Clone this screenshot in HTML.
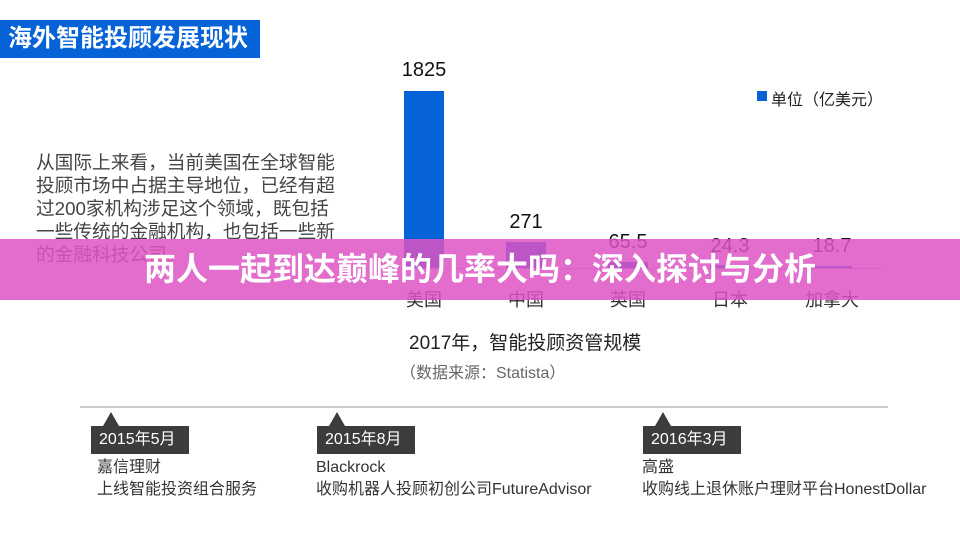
<!DOCTYPE html>
<html><head><meta charset="utf-8"><style>
body{margin:0;width:960px;height:540px;background:#fff;position:relative;overflow:hidden;font-family:"Liberation Sans","Noto Sans CJK SC",sans-serif;}
.a{position:absolute;white-space:nowrap;}
.bar{position:absolute;background:#0563d7;width:40px;}
.v{position:absolute;width:100px;text-align:center;font-size:20px;color:#111;}
.c{position:absolute;width:100px;text-align:center;font-size:18px;color:#333;top:286px;}
.tag{position:absolute;top:426px;height:28px;background:#3c3c3c;color:#fff;font-size:16px;line-height:28px;padding-left:8px;width:90px;}
.tag:before{content:"";position:absolute;left:12px;top:-14px;border-left:8px solid transparent;border-right:8px solid transparent;border-bottom:14px solid #3c3c3c;}
.t{position:absolute;top:457px;font-size:16px;color:#333;line-height:22px;}
</style></head><body>
<div class="a" style="left:0;top:20px;width:260px;height:38px;background:#0563d7;color:#fff;font-size:24px;font-weight:bold;line-height:38px;padding-left:8px;box-sizing:border-box;">海外智能投顾发展现状</div>
<div class="a" style="left:36px;top:151px;font-size:18.7px;color:#444;line-height:23px;">从国际上来看，当前美国在全球智能<br>投顾市场中占据主导地位，已经有超<br>过200家机构涉足这个领域，既包括<br>一些传统的金融机构，也包括一些新<br>的金融科技公司。</div>
<div class="a" style="left:385px;top:268px;width:497px;height:1px;background:#bbb;"></div>
<div class="bar" style="left:404px;top:91px;height:177px"></div>
<div class="bar" style="left:506px;top:242px;height:26px"></div>
<div class="bar" style="left:608px;top:262px;height:6px"></div>
<div class="bar" style="left:710px;top:265px;height:3px"></div>
<div class="bar" style="left:812px;top:266px;height:2px"></div>
<div class="v" style="left:374px;top:59px">1825</div>
<div class="v" style="left:476px;top:211px">271</div>
<div class="v" style="left:578px;top:231px">65.5</div>
<div class="v" style="left:680px;top:235px">24.3</div>
<div class="v" style="left:782px;top:235px">18.7</div>
<div class="c" style="left:374px">美国</div>
<div class="c" style="left:476px">中国</div>
<div class="c" style="left:578px">英国</div>
<div class="c" style="left:680px">日本</div>
<div class="c" style="left:782px">加拿大</div>
<div class="a" style="left:757px;top:91px;width:10px;height:10px;background:#0563d7"></div>
<div class="a" style="left:771px;top:86px;font-size:16px;color:#222">单位（亿美元）</div>
<div class="a" style="left:409px;top:328px;font-size:19px;color:#222">2017年，智能投顾资管规模</div>
<div class="a" style="left:400px;top:359px;font-size:16px;color:#666">（数据来源：Statista）</div>
<div class="a" style="left:80px;top:406px;width:808px;height:2px;background:#ccc"></div>
<div class="tag" style="left:91px">2015年5月</div>
<div class="tag" style="left:317px">2015年8月</div>
<div class="tag" style="left:643px">2016年3月</div>
<div class="t" style="left:97px">嘉信理财<br>上线智能投资组合服务</div>
<div class="t" style="left:316px">Blackrock<br>收购机器人投顾初创公司FutureAdvisor</div>
<div class="t" style="left:642px">高盛<br>收购线上退休账户理财平台HonestDollar</div>
<div class="a" style="left:0;top:239px;width:960px;height:61px;background:rgba(221,84,196,0.85)"></div>
<div class="a" style="left:0;top:239px;width:960px;height:61px;line-height:61px;text-align:center;color:#fff;font-size:32px;font-weight:bold;">两人一起到达巅峰的几率大吗：深入探讨与分析</div>
</body></html>
